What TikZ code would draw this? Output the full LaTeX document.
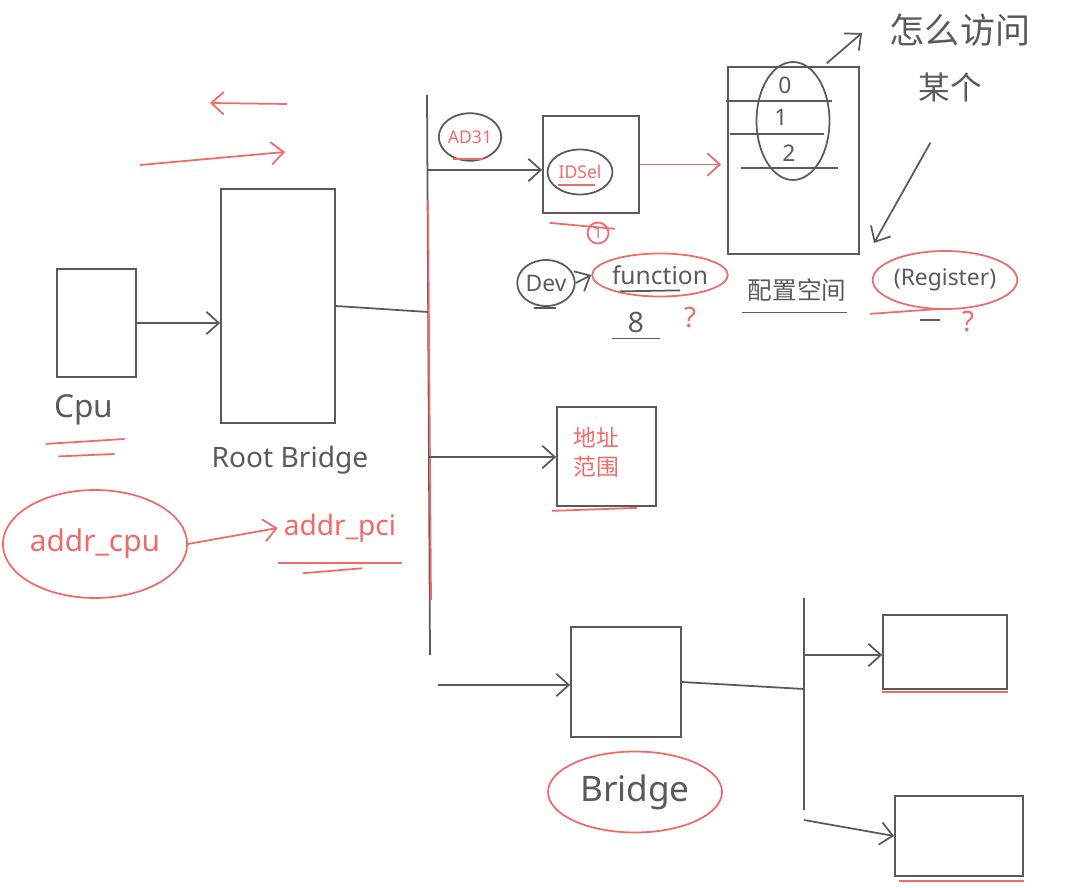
\documentclass[tikz,border=0pt]{standalone}
\usepackage{fontspec}
\setmainfont{Noto Sans}
\newfontfamily\cjk{Noto Sans CJK SC}
\usetikzlibrary{arrows.meta,positioning,shapes.geometric}
\definecolor{pen}{HTML}{5A5A5A}
\definecolor{ink}{HTML}{F06A6A}
\tikzset{
  box/.style={draw=pen, line width=1pt, inner sep=0pt},
  bus/.style={draw=pen, line width=1pt},
  wire/.style={-{Straight Barb[length=2.5mm, width=4.5mm]}, line width=1pt, draw=pen},
  redwire/.style={-{Straight Barb[length=2.5mm, width=4.5mm]}, line width=1pt, draw=ink},
  uline/.style={draw=ink, line width=1pt},
  gline/.style={draw=pen, line width=1pt},
  ring/.style={ellipse, draw=pen, line width=1pt, inner sep=0pt},
  redring/.style={ellipse, draw=ink, line width=1pt, inner sep=0pt},
  pentext/.style={text=pen, font=\fontsize{16}{18}\selectfont},
  inktext/.style={text=ink, font=\fontsize{16}{18}\selectfont}
}

\begin{document}
\begin{tikzpicture}[x=0.02cm, y=-0.02cm]
  \useasboundingbox (0,0) rectangle (1074,888);

  \node[box, minimum width=1.58cm, minimum height=2.16cm] (cpu) at (96.5,323) {};
  \node[pentext, font=\fontsize{18}{20}\selectfont] (cpulbl) at (84,410) {Cpu};
  \node[box, minimum width=2.28cm, minimum height=4.68cm] (root) at (278,306) {};
  \node[pentext] (rootlbl) at (290,460) {Root Bridge};

  \coordinate (bustop) at (427,95);
  \coordinate (busbot) at (430,655);
  \coordinate (tapR) at (428,312);
  \coordinate (tapA) at (428,170);
  \coordinate (tapB) at (428,457);
  \coordinate (tapC) at (438,685);
  \draw[bus] (bustop) -- (busbot);
  \draw[uline] (428,200) -- (431,600);

  \draw[wire] (cpu.east) -- (root.west |- cpu.east);
  \draw[bus] (root.east) -- (tapR);

  \coordinate (leftS) at (287,104);
  \coordinate (leftE) at (210,103);
  \coordinate (rightS) at (140,165);
  \coordinate (rightE) at (285,152);
  \draw[redwire] (leftS) -- (leftE);
  \draw[redwire] (rightS) -- (rightE);

  \node[ring, text=ink, minimum width=1.2cm, minimum height=0.95cm] (ad31) at (470,137) {AD31};
  \node[box, minimum width=1.92cm, minimum height=1.94cm] (idsel) at (591,164.5) {};
  \node[ring, text=ink, minimum width=1.3cm, minimum height=0.9cm] (idseltxt) at (580,172) {IDSel};
  \node[redring, circle, text=ink, minimum size=0.42cm, font=\small] (one) at (598,233) {1};
  \draw[wire] (tapA) -- (idsel.west |- tapA);
  \draw[uline] ([xshift=-0.35cm, yshift=0.05cm]ad31.south) -- ([xshift=0.25cm, yshift=0.05cm]ad31.south);
  \draw[uline] ([xshift=-0.45cm, yshift=0.2cm]idseltxt.south) -- ([xshift=0.3cm, yshift=0.2cm]idseltxt.south);
  \draw[uline] ([xshift=0.15cm, yshift=-0.18cm]idsel.south west) -- ([xshift=-0.5cm, yshift=-0.3cm]idsel.south east);

  \node[box, minimum width=2.62cm, minimum height=3.74cm] (reg) at (793.5,160.5) {};
  \draw[gline] (726,101) -- (832,101);
  \draw[gline] (730,134) -- (824,134);
  \draw[gline] (741,168) -- (838,168);
  \node[pentext, font=\fontsize{13}{15}\selectfont] (slot0) at (785,85) {0};
  \node[pentext, font=\fontsize{13}{15}\selectfont] (slot1) at (781,117) {1};
  \node[pentext, font=\fontsize{13}{15}\selectfont] (slot2) at (789,153) {2};
  \node[ring, minimum width=1.46cm, minimum height=2.36cm] (slots) at (793,121) {};
  \draw[redwire] (idsel.east) -- ([xshift=-0.12cm]reg.west |- idsel.east);

  \node[pentext, font=\cjk\fontsize{20}{22}\selectfont] (howto) at (960,30) {怎么访问};
  \node[pentext, font=\cjk\fontsize{18}{20}\selectfont] (some) at (950,87) {某个};
  \coordinate (howtip) at (862,33);
  \coordinate (regtip) at (874,243);
  \draw[wire, shorten <=0.3cm] (slots.65) -- (howtip);
  \draw[wire, shorten <=0.8cm] (some.south) -- (regtip);

  \node[pentext, font=\cjk\fontsize{14}{16}\selectfont] (cfg) at (797,290) {配置空间};
  \node[redring, text=pen, minimum width=2.3cm, minimum height=1.16cm, font=\fontsize{13}{15}\selectfont] (regname) at (945,280) {(Register)};
  \draw[gline] ([yshift=-0.1cm]cfg.south west) -- ([xshift=-0.1cm, yshift=-0.1cm]cfg.south east);
  \draw[uline] ([xshift=-1.5cm, yshift=-0.08cm]regname.south) -- ([xshift=-0.1cm, yshift=0.02cm]regname.south);
  \draw[gline] ([xshift=-0.5cm, yshift=-0.2cm]regname.south) -- ([xshift=-0.1cm, yshift=-0.2cm]regname.south);
  \node[inktext] (regq) at (968,322) {?};

  \node[ring, pentext, minimum width=1.02cm, minimum height=0.92cm, font=\fontsize{13}{15}\selectfont] (dev) at (546,283) {Dev};
  \node[redring, text=pen, minimum width=1.96cm, minimum height=0.86cm, font=\fontsize{14}{16}\selectfont] (func) at (660,275) {function};
  \node[pentext] (eight) at (636,322) {8};
  \node[inktext] (funcq) at (690,318) {?};
  \draw[wire] (dev.east) -- (func.west);
  \draw[gline] ([xshift=-0.25cm, yshift=-0.03cm]dev.south) -- ([xshift=0.2cm, yshift=-0.03cm]dev.south);
  \draw[gline] ([xshift=-0.2cm]eight.south west) -- ([xshift=0.2cm]eight.south east);
  \draw[gline] ([xshift=-0.8cm, yshift=0.12cm]func.south) -- ([xshift=0.4cm, yshift=0.14cm]func.south);

  \node[box, minimum width=1.98cm, minimum height=1.98cm] (range) at (606.5,456.5) {};
  \node[inktext, align=center, font=\cjk\fontsize{13}{16.5}\selectfont] (rangetxt) at (596,452) {地址\\范围};
  \draw[wire] (tapB) -- (range.west |- tapB);
  \draw[uline] ([xshift=-0.08cm, yshift=-0.08cm]range.south west) -- ([xshift=-0.4cm, yshift=-0.02cm]range.south east);

  \node[redring, text=ink, minimum width=3.6cm, minimum height=2.16cm, font=\fontsize{17}{19}\selectfont] (addrcpu) at (95,544) {addr\_cpu};
  \node[inktext] (addrpci) at (340,528) {addr\_pci};
  \draw[redwire] (addrcpu.east) -- (addrpci.west);
  \draw[uline] ([yshift=-0.3cm]addrpci.south west) -- ([yshift=-0.3cm]addrpci.south east);
  \draw[uline] ([xshift=0.5cm, yshift=-0.5cm]addrpci.south west) -- ([xshift=-0.8cm, yshift=-0.4cm]addrpci.south east);

  \node[box, minimum width=2.2cm, minimum height=2.2cm] (bridge) at (626,682) {};
  \node[redring, text=pen, minimum width=3.48cm, minimum height=1.62cm, font=\fontsize{20}{22}\selectfont] (bridgelbl) at (635,792) {Bridge};
  \draw[wire] (tapC) -- (bridge.west |- tapC);

  \coordinate (bus2top) at (804,598);
  \coordinate (bus2bot) at (804,810);
  \coordinate (tapD) at (804,689);
  \coordinate (tapE) at (804,655);
  \coordinate (tapF) at (804,820);
  \draw[bus] (bus2top) -- (bus2bot);
  \draw[bus] (bridge.east) -- (tapD);
  \node[box, minimum width=2.48cm, minimum height=1.48cm] (devA) at (945,652) {};
  \node[box, minimum width=2.56cm, minimum height=1.6cm] (devB) at (959,836) {};
  \draw[wire] (tapE) -- (devA.west |- tapE);
  \draw[wire] (tapF) -- (devB.west);
  \draw[uline] ([yshift=-0.04cm]devA.south west) -- ([yshift=-0.04cm]devA.south east);
  \draw[uline] ([xshift=0.1cm, yshift=-0.08cm]devB.south west) -- ([yshift=-0.08cm]devB.south east);
  \draw[uline] ([xshift=-0.05cm, yshift=-0.25cm]cpulbl.south west) -- ([xshift=0.1cm, yshift=-0.15cm]cpulbl.south east);
  \draw[uline] ([xshift=0.2cm, yshift=-0.5cm]cpulbl.south west) -- ([xshift=-0.1cm, yshift=-0.45cm]cpulbl.south east);
\end{tikzpicture}
\end{document}
